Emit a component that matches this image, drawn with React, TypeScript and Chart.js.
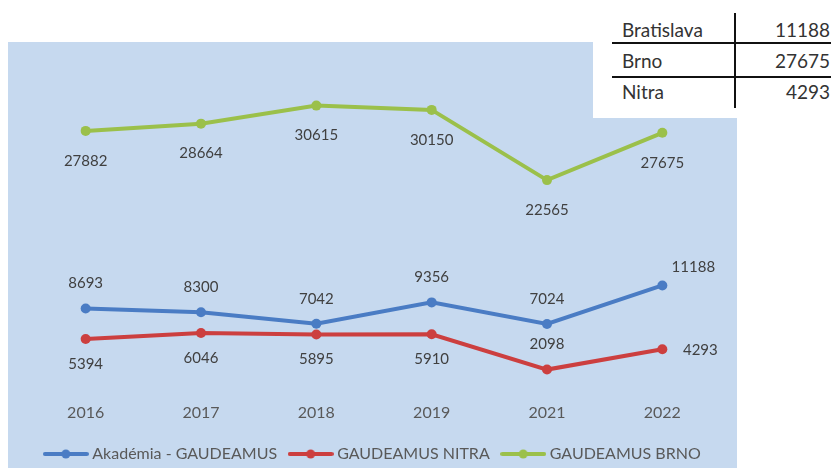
import React, { useEffect, useRef } from "react";
import { Chart, registerables } from "chart.js";

Chart.register(...registerables);

const years = ["2016", "2017", "2018", "2019", "2021", "2022"];
const akademia = [8693, 8300, 7042, 9356, 7024, 11188];
const nitra = [5394, 6046, 5895, 5910, 2098, 4293];
const brno = [27882, 28664, 30615, 30150, 22565, 27675];
const seriesNames = ["Akadémia - GAUDEAMUS", "GAUDEAMUS NITRA", "GAUDEAMUS BRNO"];
const tableCities = ["Bratislava", "Brno", "Nitra"];
const tableValues = [11188, 27675, 4293];

const COLORS = ["#4A7CC4", "#CC3F3F", "#9BC04A"];
const FONT = "Lato, 'Open Sans', sans-serif";
// label placement per series per point
const placements = [
  ["above", "above", "above", "above", "above", "aboveRight"],
  ["below", "below", "below", "below", "above", "right"],
  ["belowFar", "belowFar", "belowFar", "belowFar", "belowFar", "belowFar"],
];

function legendIcon(color: string) {
  const c = document.createElement("canvas");
  c.width = 46;
  c.height = 12;
  const ctx = c.getContext("2d")!;
  ctx.strokeStyle = color;
  ctx.lineWidth = 4;
  ctx.lineCap = "round";
  ctx.beginPath();
  ctx.moveTo(2, 6);
  ctx.lineTo(44, 6);
  ctx.stroke();
  ctx.fillStyle = color;
  ctx.beginPath();
  ctx.arc(23, 6, 4.5, 0, Math.PI * 2);
  ctx.fill();
  return c;
}

const labelPlugin = {
  id: "pointLabels",
  afterDatasetsDraw(chart: any) {
    const ctx = chart.ctx;
    ctx.save();
    ctx.font = "15px " + FONT;
    ctx.fillStyle = "#404040";
    ctx.textAlign = "center";
    ctx.textBaseline = "middle";
    chart.data.datasets.forEach((ds: any, di: number) => {
      const meta = chart.getDatasetMeta(di);
      meta.data.forEach((pt: any, i: number) => {
        const p = placements[di][i];
        let x = pt.x;
        let y = pt.y;
        if (p === "above") y -= 25;
        else if (p === "below") y += 25;
        else if (p === "belowFar") y += 30;
        else if (p === "aboveRight") {
          x += 31;
          y -= 18;
        } else if (p === "right") {
          x += 38;
          y += 1;
        }
        ctx.fillText(String(ds.data[i]), x, y);
      });
    });
    ctx.restore();
  },
};

export default function App() {
  const ref = useRef<HTMLCanvasElement>(null);
  useEffect(() => {
    const seriesData = [akademia, nitra, brno];
    const chart = new Chart(ref.current!, {
      type: "line",
      data: {
        labels: years,
        datasets: seriesData.map((d, i) => ({
          label: seriesNames[i],
          data: d,
          borderColor: COLORS[i],
          backgroundColor: COLORS[i],
          borderWidth: 4,
          pointRadius: 5,
          pointBorderWidth: 0,
          pointBackgroundColor: COLORS[i],
          tension: 0,
        })),
      },
      options: {
        animation: false,
        responsive: false,
        layout: { padding: { left: 20, right: 17, top: 23, bottom: -4 } },
        scales: {
          x: {
            offset: true,
            grid: { display: false, drawTicks: false },
            border: { display: false },
            ticks: {
              padding: 14,
              color: "#595959",
              font: { family: FONT, size: 16 },
            },
            afterFit: (s: any) => {
              s.height = 42;
            },
          },
          y: {
            display: false,
            min: 0,
            max: 35000,
          },
        },
        plugins: {
          tooltip: { enabled: false },
          legend: {
            position: "bottom",
            labels: {
              usePointStyle: true,
              pointStyleWidth: 37,
              boxHeight: 12,
              padding: 15,
              color: "#595959",
              font: { family: FONT, size: 16 },
              generateLabels: (ch: any) =>
                ch.data.datasets.map((ds: any, i: number) => ({
                  text: ds.label,
                  fillStyle: COLORS[i],
                  strokeStyle: COLORS[i],
                  lineWidth: 0,
                  pointStyle: legendIcon(COLORS[i]),
                  datasetIndex: i,
                  hidden: false,
                  fontColor: "#595959",
                })),
            },
          },
        },
      },
      plugins: [labelPlugin],
    });
    return () => chart.destroy();
  }, []);

  return (
    <div style={{ position: "absolute", left: 0, top: 0, width: 831, height: 468, background: "#fff", overflow: "hidden" }}>
      <div style={{ position: "absolute", left: 8, top: 42, width: 729, height: 426, background: "#C6D9EF" }} />
      <canvas ref={ref} width={729} height={426} style={{ position: "absolute", left: 8, top: 42, width: 729, height: 426 }} />
      <div style={{ position: "absolute", left: 593, top: 0, width: 238, height: 118, background: "#fff" }}>
        <div style={{ position: "absolute", left: 141, top: 13, width: 2, height: 95, background: "#111" }} />
        <div style={{ position: "absolute", left: 19, top: 42, width: 219, height: 2, background: "#111" }} />
        <div style={{ position: "absolute", left: 19, top: 76, width: 219, height: 2, background: "#111" }} />
        {tableCities.map((c, i) => (
          <React.Fragment key={c}>
            <div style={{ position: "absolute", left: 29, top: 18 + i * 31, fontFamily: FONT, fontSize: 19, color: "#333", lineHeight: "24px" }}>{c}</div>
            <div style={{ position: "absolute", right: 1, top: 18 + i * 31, fontFamily: FONT, fontSize: 19, color: "#333", lineHeight: "24px", textAlign: "right" }}>{tableValues[i]}</div>
          </React.Fragment>
        ))}
      </div>
    </div>
  );
}
